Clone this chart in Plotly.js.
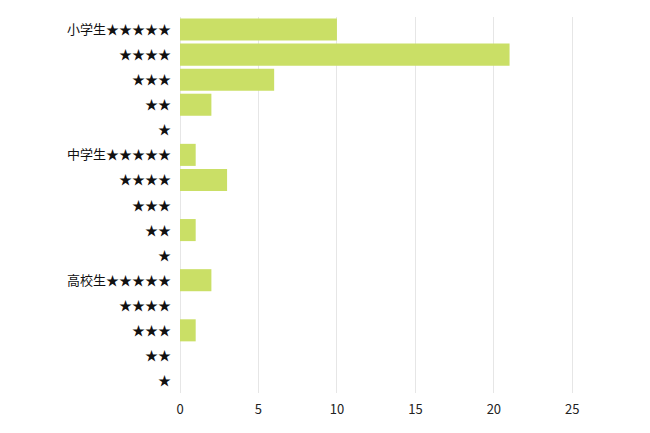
<!DOCTYPE html>
<html>
<head>
<meta charset="utf-8">
<script src="https://cdn.plot.ly/plotly-3.0.1.min.js"></script>
<style>html,body{margin:0;padding:0;background:#fff;}#chart{width:650px;height:433px;}</style>
</head>
<body>
<div id="chart"></div>
<script>
const labels = ["小学生★★★★★","★★★★","★★★","★★","★",
                "中学生★★★★★","★★★★","★★★","★★","★",
                "高校生★★★★★","★★★★","★★★","★★","★"];
const values = [10, 21, 6, 2, 0, 1, 3, 0, 1, 0, 2, 0, 1, 0, 0];
const xTicks = [0, 5, 10, 15, 20, 25];

const positions = labels.map((_, i) => i);

Plotly.newPlot('chart', [{
  type: 'bar',
  orientation: 'h',
  y: positions,
  x: values,
  marker: {color: '#cadf66'},
  hoverinfo: 'x'
}], {
  width: 650, height: 433,
  margin: {l: 180, r: 40, t: 17, b: 40, pad: 0},
  paper_bgcolor: '#ffffff', plot_bgcolor: '#ffffff',
  bargap: 0.12,
  showlegend: false,
  font: {family: '"Noto Sans CJK JP", "Noto Sans", sans-serif', size: 12, color: '#222'},
  xaxis: {
    range: [0, 27.4],
    tickvals: xTicks,
    ticktext: xTicks.map(String),
    showgrid: true, gridcolor: '#e6e6e6', gridwidth: 1,
    zeroline: true, zerolinecolor: '#e6e6e6', zerolinewidth: 1,
    showline: false, ticks: '', ticklen: 0,
    ticklabelstandoff: 7,
    tickfont: {size: 13, color: '#222'}
  },
  yaxis: {
    range: [14.5, -0.5],
    tickvals: positions,
    ticktext: labels,
    showgrid: false, zeroline: false, showline: false, ticks: '',
    ticklabelstandoff: 8,
    tickfont: {size: 13, color: '#111'}
  }
}, {displayModeBar: false, staticPlot: true});
</script>
</body>
</html>
